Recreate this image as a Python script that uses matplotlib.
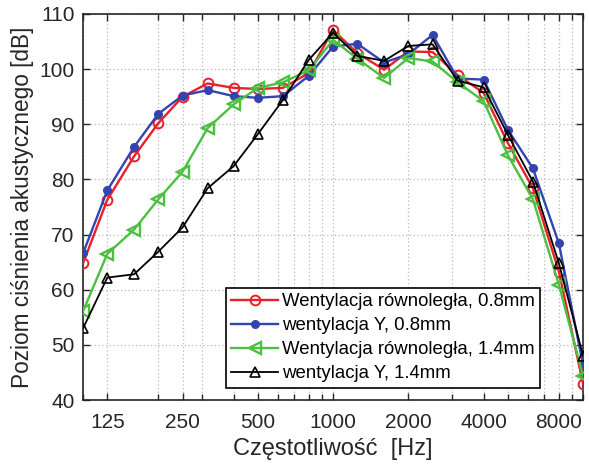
import matplotlib
matplotlib.use("Agg")
import matplotlib.pyplot as plt
from matplotlib.ticker import FixedLocator, NullFormatter

plt.rcParams['font.family'] = ['Liberation Sans', 'DejaVu Sans']

# Third-octave band centre frequencies [Hz]
freqs = [100, 125, 160, 200, 250, 315, 400, 500, 630, 800, 1000,
         1250, 1600, 2000, 2500, 3150, 4000, 5000, 6300, 8000, 10000]

# Sound pressure level [dB] for each ventilation variant
rownolegla_08 = [64.8, 76.3, 84.2, 90.2, 95.0, 97.4, 96.6, 96.4, 96.6, 99.3, 107.1,
                 102.9, 99.9, 103.2, 103.1, 98.9, 95.7, 86.6, 78.4, 63.3, 42.9]
y_08 = [66.6, 78.0, 85.9, 91.9, 95.2, 96.2, 95.1, 94.8, 95.1, 98.8, 104.1,
        104.6, 101.2, 102.7, 106.2, 98.3, 98.1, 89.0, 82.0, 68.4, 46.3]
rownolegla_14 = [56.1, 66.5, 70.9, 76.4, 81.4, 89.3, 93.6, 96.6, 97.6, 99.8, 105.3,
                 101.9, 98.4, 102.0, 101.4, 97.6, 94.2, 84.4, 76.4, 60.9, 44.3]
y_14 = [53.0, 62.2, 62.8, 66.9, 71.3, 78.4, 82.4, 88.2, 94.4, 101.7, 106.6,
        102.4, 101.5, 104.2, 104.5, 97.9, 96.7, 88.1, 79.6, 64.8, 48.0]

labels = ['Wentylacja równoległa, 0.8mm', 'wentylacja Y, 0.8mm',
          'Wentylacja równoległa, 1.4mm', 'wentylacja Y, 1.4mm']

major_ticks = [125, 250, 500, 1000, 2000, 4000, 8000]
major_labels = ['125', '250', '500', '1000', '2000', '4000', '8000']
minor_ticks = [100, 200, 300, 400, 600, 700, 800, 900,
               3000, 5000, 6000, 7000, 9000, 10000]

fig = plt.figure(figsize=(5.89, 4.66), dpi=100)
ax = fig.add_axes([0.141, 0.1416, 0.849, 0.8284])

ax.plot(freqs, rownolegla_08, color='#e8202a', lw=1.7, marker='o', ms=7,
        mfc='none', mew=1.4, label=labels[0], zorder=3)
ax.plot(freqs, y_08, color='#3344b0', lw=1.7, marker='o', ms=5.5,
        mfc='#3344b0', mec='#3344b0', label=labels[1], zorder=3)
ax.plot(freqs, rownolegla_14, color='#4cc040', lw=1.7, marker='<', ms=8,
        mfc='none', mew=1.7, label=labels[2], zorder=3)
ax.plot(freqs, y_14, color='black', lw=1.3, marker='^', ms=7.5,
        mfc='none', mew=1.2, label=labels[3], zorder=4)

ax.set_xscale('log')
ax.set_xlim(100, 10000)
ax.set_ylim(40, 110)
ax.xaxis.set_major_locator(FixedLocator(major_ticks))
ax.set_xticklabels(major_labels)
ax.xaxis.set_minor_locator(FixedLocator(minor_ticks))
ax.xaxis.set_minor_formatter(NullFormatter())
ax.set_yticks(range(40, 111, 10))

ax.tick_params(which='both', direction='in', top=True, right=True,
               labelsize=15, colors='#262626', width=1.0)
ax.tick_params(which='major', length=5)
ax.tick_params(which='minor', length=4)
ax.tick_params(axis='x', pad=9)
ax.tick_params(axis='y', pad=6)
for sp in ax.spines.values():
    sp.set_linewidth(1.2)
    sp.set_color('#262626')

ax.grid(True, which='both', linestyle=(0, (1, 2)), color='#b8b8b8', lw=0.9)
ax.set_axisbelow(True)

ax.set_xlabel('Częstotliwość  [Hz]', fontsize=17, color='#262626', labelpad=5)
ax.set_ylabel('Poziom ciśnienia akustycznego [dB]', fontsize=16.3,
              color='#262626', labelpad=4)

leg = ax.legend(loc='lower right', bbox_to_anchor=(0.914, 0.031), fontsize=13.4,
                frameon=True, fancybox=False, framealpha=1, edgecolor='black',
                handlelength=2.5, handletextpad=0.2, labelspacing=0.38,
                borderpad=0.3, borderaxespad=0)
leg.get_frame().set_linewidth(1.2)

fig.savefig('out.png', dpi=100)
